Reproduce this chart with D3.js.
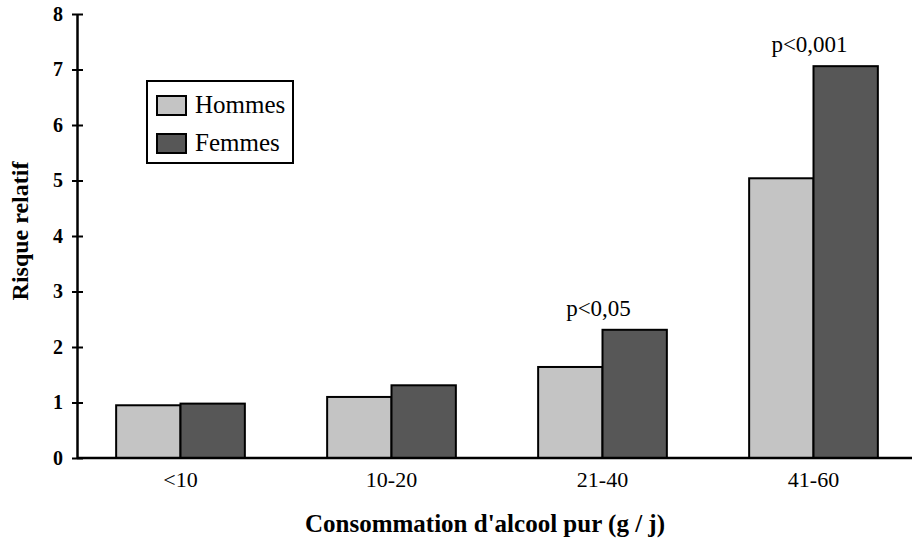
<!DOCTYPE html>
<html>
<head>
<meta charset="utf-8">
<script src="https://cdn.jsdelivr.net/npm/d3@7"></script>
<style>
  html, body { margin: 0; padding: 0; background: #fff; }
  svg { display: block; }
</style>
</head>
<body>
<svg id="chart" width="912" height="540"></svg>
<script>
// Relative risk by daily pure alcohol intake, by sex
const categories = ["<10", "10-20", "21-40", "41-60"];
const series = ["Hommes", "Femmes"];
const hommes = [0.95, 1.1, 1.64, 5.04];
const femmes = [0.98, 1.31, 2.31, 7.06];
const yTicks = [0, 1, 2, 3, 4, 5, 6, 7, 8];
const annotations = [
  { cat: "21-40", text: "p<0,05", value: 2.31 },
  { cat: "41-60", text: "p<0,001", value: 7.06 }
];

const colors = { Hommes: "#c4c4c4", Femmes: "#575757" };
const serif = "'Liberation Serif', 'DejaVu Serif', serif";

const svg = d3.select("#chart");
const axisX = 77, baseY = 458;

const y = d3.scaleLinear().domain([0, 8]).range([baseY, 14]);
const x = d3.scaleBand().domain(categories).range([75, 919]).paddingInner(0.39).paddingOuter(0.195);
const xs = d3.scaleBand().domain(series).range([0, x.bandwidth()]);

const rows = categories.map((c, i) => ({ cat: c, Hommes: hommes[i], Femmes: femmes[i] }));

// bars
const g = svg.append("g");
rows.forEach(r => {
  series.forEach(s => {
    g.append("rect")
      .attr("x", x(r.cat) + xs(s))
      .attr("y", y(r[s]))
      .attr("width", xs.bandwidth())
      .attr("height", baseY - y(r[s]))
      .attr("fill", colors[s])
      .attr("stroke", "#000")
      .attr("stroke-width", 2);
  });
});

// x baseline
svg.append("line")
  .attr("x1", axisX).attr("x2", 912)
  .attr("y1", baseY).attr("y2", baseY)
  .attr("stroke", "#000").attr("stroke-width", 2.5);

// y axis
const yAxis = d3.axisLeft(y).tickValues(yTicks).tickSize(5).tickSizeOuter(0).tickPadding(9);
const ya = svg.append("g").attr("transform", `translate(${axisX},0)`).call(yAxis);
ya.select(".domain").attr("stroke-width", 2.5);
ya.selectAll(".tick line").attr("x2", 6).attr("x1", -5).attr("stroke-width", 2);
ya.selectAll(".tick text")
  .attr("font-family", serif).attr("font-weight", "bold").attr("font-size", 20).attr("fill", "#000");

// x tick labels
const xAxis = d3.axisBottom(x).tickSize(0).tickPadding(13);
const xa = svg.append("g").attr("transform", `translate(0,${baseY})`).call(xAxis);
xa.select(".domain").remove();
xa.selectAll(".tick text")
  .attr("font-family", serif).attr("font-size", 22).attr("fill", "#000");

// axis titles
svg.append("text")
  .attr("x", 485).attr("y", 532)
  .attr("text-anchor", "middle")
  .attr("font-family", serif).attr("font-weight", "bold").attr("font-size", 25)
  .text("Consommation d'alcool pur (g / j)");

svg.append("text")
  .attr("transform", `translate(28,231) rotate(-90)`)
  .attr("text-anchor", "middle")
  .attr("font-family", serif).attr("font-weight", "bold").attr("font-size", 24)
  .text("Risque relatif");

// significance labels
annotations.forEach(a => {
  svg.append("text")
    .attr("x", x(a.cat) + x.bandwidth() / 2 - 4)
    .attr("y", y(a.value) - 14)
    .attr("text-anchor", "middle")
    .attr("font-family", serif).attr("font-size", 23)
    .text(a.text);
});

// legend
const lg = svg.append("g").attr("transform", "translate(147,81)");
lg.append("rect").attr("width", 146).attr("height", 82)
  .attr("fill", "#fff").attr("stroke", "#000").attr("stroke-width", 2);
series.forEach((s, i) => {
  const row = lg.append("g").attr("transform", `translate(10,${15 + i * 38})`);
  row.append("rect").attr("width", 29).attr("height", 19)
    .attr("fill", colors[s]).attr("stroke", "#000").attr("stroke-width", 2);
  row.append("text").attr("x", 38).attr("y", 17)
    .attr("font-family", serif).attr("font-size", 25).text(s);
});
</script>
</body>
</html>
